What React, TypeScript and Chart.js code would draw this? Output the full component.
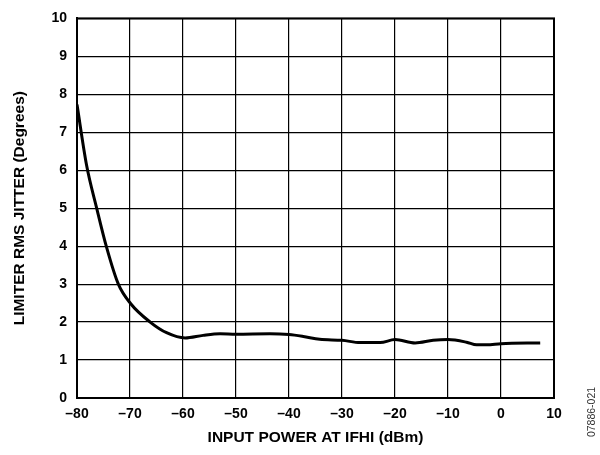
import React, { useEffect, useRef } from "react";
import { Chart, registerables } from "chart.js";

Chart.register(...registerables);

const inputPower = [
  -80, -78.2, -76.3, -74.4, -72.2, -69.9, -66.2, -63.1, -59.6, -56.2, -53, -50,
  -43.6, -40, -37.3, -34.2, -30, -26.6, -22.8, -20, -16.2, -12.8, -10, -6.5,
  -4.6, -2.7, 0, 7.4,
];
const jitterDeg = [
  7.73, 6.14, 5.01, 3.96, 3.0, 2.49, 2.0, 1.72, 1.58, 1.65, 1.69, 1.68, 1.69,
  1.67, 1.62, 1.545, 1.52, 1.46, 1.46, 1.54, 1.45, 1.52, 1.54, 1.47, 1.4, 1.4,
  1.43, 1.45,
];
const xTitle = "INPUT POWER AT IFHI (dBm)";
const yTitle = "LIMITER RMS JITTER (Degrees)";
const figureCode = "07886-021";

const FONT = "'Liberation Sans', Arial, Helvetica, sans-serif";

const fmt = (v: number) => (v < 0 ? "\u2013" + Math.abs(v) : String(v));

export default function App() {
  const ref = useRef<HTMLCanvasElement | null>(null);

  useEffect(() => {
    if (!ref.current) return;
    const framePlugin = {
      id: "frame",
      afterDatasetsDraw(chart: any) {
        const { ctx, chartArea } = chart;
        ctx.save();
        ctx.strokeStyle = "#000";
        ctx.lineWidth = 2;
        ctx.strokeRect(
          chartArea.left,
          chartArea.top,
          chartArea.right - chartArea.left,
          chartArea.bottom - chartArea.top
        );
        ctx.restore();
      },
      afterDraw(chart: any) {
        const { ctx } = chart;
        ctx.save();
        ctx.translate(592, 412);
        ctx.rotate(-Math.PI / 2);
        ctx.font = `10.5px ${FONT}`;
        ctx.fillStyle = "#333";
        ctx.textAlign = "center";
        ctx.textBaseline = "middle";
        ctx.fillText(figureCode, 0, 0);
        ctx.restore();
      },
    };

    const chart = new Chart(ref.current, {
      type: "line",
      data: {
        datasets: [
          {
            data: inputPower.map((x, i) => ({ x, y: jitterDeg[i] })),
            borderColor: "#000",
            borderWidth: 3,
            pointRadius: 0,
            fill: false,
            cubicInterpolationMode: "monotone",
          },
        ],
      },
      options: {
        responsive: false,
        animation: false,
        layout: { padding: { left: 0, right: 46, top: 16, bottom: 0 } },
        plugins: {
          legend: { display: false },
          tooltip: { enabled: false },
        },
        scales: {
          x: {
            type: "linear",
            min: -80,
            max: 10,
            afterFit: (s: any) => {
              s.height = 57;
            },
            ticks: {
              stepSize: 10,
              color: "#000",
              padding: 8,
              maxRotation: 0,
              font: { family: FONT, size: 14, weight: "bold" },
              callback: (v: any) => fmt(Number(v)),
            },
            grid: { color: "#000", lineWidth: 1.2, drawTicks: false },
            border: { color: "#000", width: 2 },
            title: {
              display: true,
              text: xTitle,
              color: "#000",
              font: { family: FONT, size: 15.5, weight: "bold" },
              padding: { top: 0, bottom: 7.7 },
            },
          },
          y: {
            min: 0,
            max: 10,
            afterFit: (s: any) => {
              s.width = 77;
            },
            ticks: {
              stepSize: 1,
              color: "#000",
              padding: 10,
              font: { family: FONT, size: 14, weight: "bold" },
            },
            grid: { color: "#000", lineWidth: 1.2, drawTicks: false },
            border: { color: "#000", width: 2 },
            title: {
              display: true,
              text: yTitle,
              color: "#000",
              font: { family: FONT, size: 15.5, weight: "bold" },
              padding: { top: 10.7, bottom: 0 },
            },
          },
        },
      },
      plugins: [framePlugin],
    } as any);
    return () => chart.destroy();
  }, []);

  return (
    <div style={{ position: "absolute", left: 0, top: 0, width: 600, height: 455, background: "#fff" }}>
      <canvas ref={ref} width={600} height={455} style={{ width: 600, height: 455 }} />
    </div>
  );
}
